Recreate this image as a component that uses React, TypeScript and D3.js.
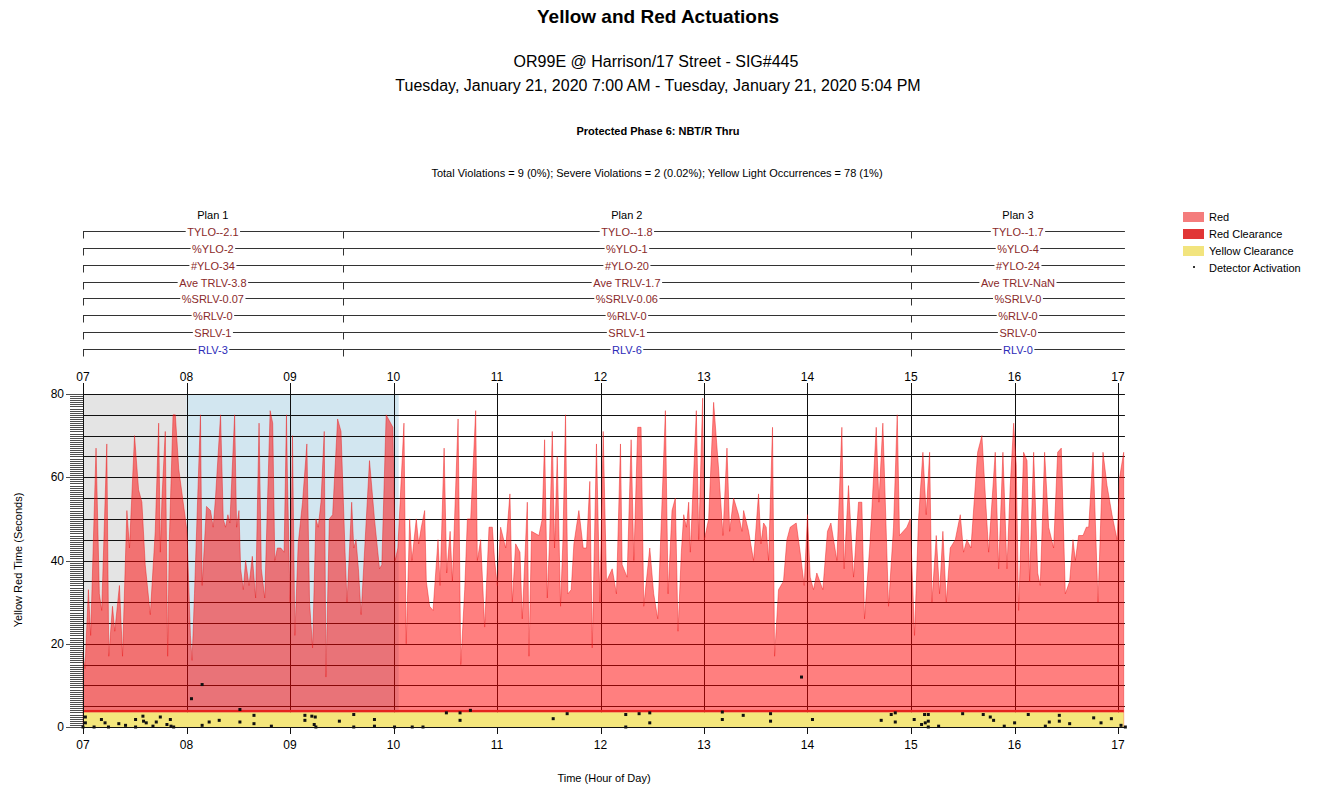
import * as d3 from 'd3';

// ---- chart data ----
const hourLabels = ['07', '08', '09', '10', '11', '12', '13', '14', '15', '16', '17'];
const yTickValues = [0, 20, 40, 60, 80];

// red time per cycle: [hour of day, seconds]
const redPlan1: [number, number][] = [
  [7.0, 18], [7.019, 14], [7.052, 33], [7.074, 22], [7.126, 67], [7.158, 32], [7.181, 28], [7.23, 68],
  [7.249, 17], [7.285, 29], [7.307, 23], [7.352, 34], [7.382, 17], [7.424, 52], [7.449, 43], [7.498, 70],
  [7.537, 57], [7.569, 54], [7.601, 39], [7.65, 27], [7.698, 47], [7.731, 73], [7.747, 42], [7.763, 55],
  [7.795, 71], [7.818, 17], [7.834, 45], [7.87, 75], [7.892, 75], [7.925, 62], [7.989, 50], [8.005, 47],
  [8.038, 22], [8.054, 16], [8.077, 32], [8.135, 75], [8.151, 34], [8.193, 53], [8.232, 52], [8.258, 48],
  [8.28, 55], [8.329, 75], [8.355, 50], [8.377, 48], [8.4, 51], [8.419, 49], [8.465, 75], [8.484, 48],
  [8.507, 52], [8.523, 38], [8.549, 33], [8.571, 40], [8.604, 34], [8.636, 41], [8.668, 31], [8.701, 73],
  [8.723, 38], [8.756, 31], [8.808, 76], [8.833, 73], [8.853, 40], [8.878, 43], [8.911, 43], [8.943, 42],
  [8.966, 75], [8.975, 60], [9.001, 30], [9.024, 70], [9.047, 22], [9.079, 44], [9.121, 54], [9.163, 68],
  [9.189, 30], [9.218, 19], [9.25, 50], [9.273, 48], [9.299, 54], [9.331, 71], [9.347, 12], [9.38, 50],
  [9.412, 51], [9.46, 74], [9.493, 71],
];

const redPlan2: [number, number][] = [
  [9.532, 42], [9.551, 30], [9.596, 54], [9.616, 43], [9.638, 45], [9.661, 38], [9.687, 27], [9.768, 64],
  [9.816, 50], [9.865, 38], [9.887, 39], [9.929, 75], [9.994, 72], [10.016, 40], [10.042, 43], [10.101, 73],
  [10.123, 20], [10.156, 50], [10.178, 40], [10.22, 50], [10.243, 44], [10.269, 48], [10.301, 52], [10.317, 35],
  [10.349, 29], [10.382, 28], [10.43, 45], [10.45, 34], [10.489, 67], [10.514, 37], [10.547, 47], [10.569, 35],
  [10.624, 74], [10.65, 15], [10.688, 33], [10.714, 50], [10.746, 50], [10.794, 76], [10.81, 40], [10.842, 45],
  [10.881, 24], [10.923, 48], [10.955, 48], [10.977, 40], [11.003, 34], [11.035, 48], [11.084, 43], [11.125, 56],
  [11.148, 30], [11.18, 44], [11.222, 42], [11.244, 26], [11.293, 54], [11.309, 17], [11.334, 47], [11.405, 46],
  [11.437, 50], [11.46, 69], [11.486, 31], [11.508, 45], [11.534, 71], [11.556, 43], [11.582, 65], [11.614, 29],
  [11.637, 45], [11.662, 75], [11.685, 32], [11.717, 33], [11.743, 44], [11.791, 52], [11.833, 43], [11.865, 43],
  [11.897, 59], [11.92, 19], [11.961, 68], [11.994, 30], [12.026, 71], [12.058, 35], [12.113, 38], [12.154, 32],
  [12.193, 68], [12.209, 39], [12.257, 36], [12.296, 69], [12.322, 40], [12.36, 72], [12.392, 72], [12.418, 29],
  [12.476, 43], [12.514, 32], [12.553, 26], [12.627, 76], [12.653, 32], [12.691, 52], [12.723, 55], [12.749, 23],
  [12.781, 42], [12.804, 51], [12.83, 48], [12.852, 54], [12.868, 42], [12.926, 76], [12.949, 45], [12.987, 79],
  [13.003, 45], [13.045, 50], [13.093, 78], [13.141, 62], [13.183, 46], [13.222, 67], [13.248, 47], [13.286, 55],
  [13.334, 51], [13.367, 47], [13.383, 52], [13.431, 47], [13.479, 40], [13.527, 56], [13.55, 44], [13.576, 49],
  [13.601, 48], [13.624, 40], [13.662, 72], [13.682, 17], [13.72, 33], [13.768, 35], [13.801, 45], [13.833, 48],
  [13.891, 49], [13.929, 42], [13.968, 34], [14.0, 51], [14.026, 36], [14.058, 33], [14.09, 37], [14.148, 33],
  [14.193, 47], [14.226, 49], [14.284, 40], [14.332, 72], [14.354, 38], [14.396, 58], [14.445, 36], [14.493, 54],
  [14.525, 54], [14.551, 26], [14.606, 45], [14.664, 72], [14.69, 54], [14.728, 73], [14.783, 29], [14.831, 48],
  [14.867, 75], [14.889, 46], [14.96, 48], [14.993, 50],
];

const redPlan3: [number, number][] = [
  [15.034, 22], [15.073, 50], [15.115, 66], [15.147, 51], [15.18, 66], [15.202, 30], [15.244, 46], [15.276, 32],
  [15.308, 47], [15.341, 30], [15.379, 43], [15.428, 45], [15.476, 51], [15.508, 42], [15.54, 45], [15.579, 43],
  [15.644, 66], [15.685, 70], [15.75, 42], [15.814, 66], [15.847, 38], [15.888, 66], [15.927, 38], [15.959, 58],
  [15.992, 73], [16.017, 63], [16.04, 28], [16.088, 66], [16.121, 64], [16.146, 35], [16.185, 66], [16.224, 37],
  [16.249, 34], [16.291, 66], [16.33, 48], [16.378, 43], [16.417, 66], [16.452, 67], [16.491, 32], [16.533, 35],
  [16.565, 45], [16.588, 40], [16.62, 46], [16.662, 46], [16.694, 48], [16.717, 48], [16.759, 66], [16.807, 30],
  [16.855, 66], [16.894, 58], [16.942, 51], [16.991, 45], [17.016, 60], [17.055, 66],
];

// detector activations: [hour of day, seconds into red]
const detectorHits: [number, number][] = [
  [7.0, 0], [7.023, 1], [7.023, 2.4], [7.107, 0], [7.178, 1.8], [7.213, 1], [7.246, 0], [7.346, 0.8],
  [7.411, 0.4], [7.508, 1.8], [7.508, 0], [7.579, 2.6], [7.585, 1.4], [7.611, 1], [7.676, 0.2], [7.708, 1.2],
  [7.747, 2.4], [7.811, 0.6], [7.844, 1.8], [7.85, 0.2], [7.876, 0], [8.048, 6.8], [8.151, 10.2], [8.151, 0.4],
  [8.219, 1.2], [8.316, 1.6], [8.516, 4.2], [8.516, 1.2], [8.652, 2.8], [8.652, 0.8], [8.82, 0.2], [9.144, 2.8],
  [9.144, 1.6], [9.211, 2.6], [9.244, 2.4], [9.234, 0.6], [9.25, 0], [9.477, 1.4], [9.616, 3], [9.616, 0],
  [9.816, 1.8], [9.816, 0.2], [10.01, 0], [10.181, 0], [10.285, 0], [10.511, 3.4], [10.643, 3.4], [10.643, 1.6],
  [10.743, 4], [11.543, 2], [11.678, 3.2], [12.244, 3], [12.244, 0], [12.373, 3.2], [12.476, 3.4], [12.476, 1],
  [13.177, 3.6], [13.177, 1.8], [13.379, 2.8], [13.643, 3.2], [13.643, 1.4], [13.942, 12], [14.048, 1.8],
  [14.712, 1.6], [14.809, 3], [14.848, 3.4], [14.848, 1.2], [15.031, 1.8], [15.102, 0.6], [15.131, 3], [15.138, 1],
  [15.167, 3], [15.167, 1.4], [15.167, 0], [15.267, 0.2], [15.499, 3.2], [15.698, 3], [15.766, 2.4], [15.798, 1.6],
  [15.901, 0.2], [16.001, 1], [16.133, 3], [16.298, 0.2], [16.336, 1.2], [16.433, 2.8], [16.433, 1.4], [16.533, 0.8],
  [16.765, 2.2], [16.836, 1], [16.936, 2], [17.029, 0.4], [17.071, 0],
];

const yellowClearance = 3.5;
const redClearance = 0.6;

const planNames = ['Plan 1', 'Plan 2', 'Plan 3'];
const planStarts = [7, 9.51, 15.0];
const endHour = 17.067;

const plan1Stats = ['TYLO--2.1', '%YLO-2', '#YLO-34', 'Ave TRLV-3.8', '%SRLV-0.07', '%RLV-0', 'SRLV-1', 'RLV-3'];
const plan2Stats = ['TYLO--1.8', '%YLO-1', '#YLO-20', 'Ave TRLV-1.7', '%SRLV-0.06', '%RLV-0', 'SRLV-1', 'RLV-6'];
const plan3Stats = ['TYLO--1.7', '%YLO-4', '#YLO-24', 'Ave TRLV-NaN', '%SRLV-0', '%RLV-0', 'SRLV-0', 'RLV-0'];

const shadedSpans: [number, number][] = [[7, 8], [8, 10.05]];

const legendItems = ['Red', 'Red Clearance', 'Yellow Clearance', 'Detector Activation'];

// ---- styles ----
const font = '"Liberation Sans", Arial, sans-serif';
const smallSize = 11;
const shadeColors = ['#e4e4e4', '#d2e6f0'];
const statColor = '#8a2a2a';
const rlvColor = '#2b2bb8';

let measureCtx: CanvasRenderingContext2D | null = null;
function textWidth(s: string) {
  if (!measureCtx && typeof document !== 'undefined') {
    measureCtx = document.createElement('canvas').getContext('2d');
  }
  if (!measureCtx) return s.length * 6;
  measureCtx.font = `${smallSize}px ${font}`;
  return measureCtx.measureText(s).width;
}

export default function App() {
  const width = 1317;
  const height = 791;

  const x = d3.scaleLinear().domain([7, 17]).range([83, 1118]);
  const y = d3.scaleLinear().domain([0, 80]).range([727, 394]);
  const xRight = x(endHour);

  const series = [...redPlan1, ...redPlan2, ...redPlan3];
  const lastHour = series[series.length - 1][0];
  const area = d3.area<[number, number]>()
    .x(d => x(d[0]))
    .y0(y(0))
    .y1(d => y(d[1]));

  const gridValues = d3.range(5, 81, 5);
  const minorTicks = d3.range(0, 80.01, 0.5);
  const hours = d3.range(7, 18);

  const planStats = [plan1Stats, plan2Stats, plan3Stats];
  const planEnds = [...planStarts.slice(1), endHour];
  const rowY = (i: number) => 231 + i * 16.85;

  return (
    <svg width={width} height={height} style={{ position: 'absolute', left: 0, top: 0, background: '#fff' }}>
      {/* titles */}
      <text x={658} y={23} textAnchor="middle" fontFamily={font} fontWeight="bold" fontSize={19}>Yellow and Red Actuations</text>
      <text x={656} y={67} textAnchor="middle" fontFamily={font} fontSize={16}>OR99E @ Harrison/17 Street - SIG#445</text>
      <text x={658} y={91} textAnchor="middle" fontFamily={font} fontSize={16}>Tuesday, January 21, 2020 7:00 AM - Tuesday, January 21, 2020 5:04 PM</text>
      <text x={658} y={131} textAnchor="middle" dominantBaseline="central" fontFamily={font} fontWeight="bold" fontSize={smallSize}>Protected Phase 6: NBT/R Thru</text>
      <text x={657} y={173} textAnchor="middle" dominantBaseline="central" fontFamily={font} fontSize={smallSize}>Total Violations = 9 (0%); Severe Violations = 2 (0.02%); Yellow Light Occurrences = 78 (1%)</text>

      {/* plan annotations */}
      {planNames.map((name, p) => {
        const x0 = x(planStarts[p]);
        const x1 = x(planEnds[p]);
        const cx = (x0 + x1) / 2;
        return (
          <g key={name}>
            <text x={cx} y={215} textAnchor="middle" dominantBaseline="central" fontFamily={font} fontSize={smallSize}>{name}</text>
            {planStats[p].map((label, i) => {
              const ry = Math.round(rowY(i)) + 0.5;
              const half = textWidth(label) / 2 + 1.5;
              return (
                <g key={label + i}>
                  <line x1={x0} x2={cx - half} y1={ry} y2={ry} stroke="#333" />
                  <line x1={cx + half} x2={x1} y1={ry} y2={ry} stroke="#333" />
                  <line x1={Math.round(x0) + 0.5} x2={Math.round(x0) + 0.5} y1={ry} y2={ry + 7} stroke="#333" />
                  <text x={cx} y={ry} textAnchor="middle" dominantBaseline="central" fontFamily={font} fontSize={smallSize}
                    fill={i === planStats[p].length - 1 ? rlvColor : statColor}>{label}</text>
                </g>
              );
            })}
          </g>
        );
      })}

      {/* shaded spans */}
      {shadedSpans.map((s, i) => (
        <rect key={i} x={x(s[0])} y={y(80)} width={x(s[1]) - x(s[0])} height={y(0) - y(80)} fill={shadeColors[i]} />
      ))}

      {/* grid */}
      {gridValues.map(v => (
        <line key={v} x1={x(7)} x2={xRight} y1={Math.round(y(v)) + 0.5} y2={Math.round(y(v)) + 0.5} stroke="#111" />
      ))}
      {hours.map(h => (
        <line key={h} x1={Math.round(x(h)) + 0.5} x2={Math.round(x(h)) + 0.5} y1={383} y2={734} stroke="#111" />
      ))}

      {/* red time */}
      <path d={area(series) ?? ''} fill="rgba(255,0,0,0.5)" stroke="rgba(235,20,20,0.55)" strokeWidth={0.8} />

      {/* clearance bands */}
      <rect x={x(7)} y={y(yellowClearance + redClearance)} width={x(lastHour) - x(7)}
        height={y(yellowClearance) - y(yellowClearance + redClearance)} fill="#e5231f" />
      <rect x={x(7)} y={y(yellowClearance)} width={x(lastHour) - x(7)}
        height={y(0) - y(yellowClearance)} fill="#f4e67c" />

      {/* axes */}
      <line x1={x(7)} x2={xRight} y1={Math.round(y(0)) + 0.5} y2={Math.round(y(0)) + 0.5} stroke="#111" />
      <line x1={Math.round(x(7)) + 0.5} x2={Math.round(x(7)) + 0.5} y1={383} y2={734} stroke="#111" />
      {minorTicks.map(v => (
        <line key={v} x1={v % 20 === 0 ? 66 : 70} x2={83} y1={Math.round(y(v)) + 0.5} y2={Math.round(y(v)) + 0.5}
          stroke="#222" strokeWidth={0.8} />
      ))}
      {yTickValues.map(v => (
        <text key={v} x={64} y={y(v)} textAnchor="end" dominantBaseline="central" fontFamily={font} fontSize={smallSize + 1}>{v}</text>
      ))}
      {hours.map((h, i) => (
        <g key={h}>
          <text x={x(h)} y={377} textAnchor="middle" dominantBaseline="central" fontFamily={font} fontSize={smallSize + 1}>{hourLabels[i]}</text>
          <text x={x(h)} y={745} textAnchor="middle" dominantBaseline="central" fontFamily={font} fontSize={smallSize + 1}>{hourLabels[i]}</text>
        </g>
      ))}

      {/* detector activations */}
      {detectorHits.map((d, i) => (
        <rect key={i} x={x(d[0]) - 1.5} y={y(d[1]) - 1.5} width={3} height={3} fill="#111" />
      ))}

      {/* axis titles */}
      <text x={604} y={778} textAnchor="middle" dominantBaseline="central" fontFamily={font} fontSize={smallSize}>Time (Hour of Day)</text>
      <text transform="translate(18,560) rotate(-90)" textAnchor="middle" dominantBaseline="central" fontFamily={font} fontSize={smallSize}>Yellow Red Time (Seconds)</text>

      {/* legend */}
      <rect x={1183} y={212} width={21} height={10} fill="#f47c7c" />
      <rect x={1183} y={229} width={21} height={10} fill="#e13535" />
      <rect x={1183} y={246} width={21} height={10} fill="#f2e47e" />
      <rect x={1193} y={266} width={2} height={2} fill="#333" />
      {legendItems.map((t, i) => (
        <text key={t} x={1209} y={217 + i * 17} dominantBaseline="central" fontFamily={font} fontSize={smallSize}>{t}</text>
      ))}
    </svg>
  );
}
